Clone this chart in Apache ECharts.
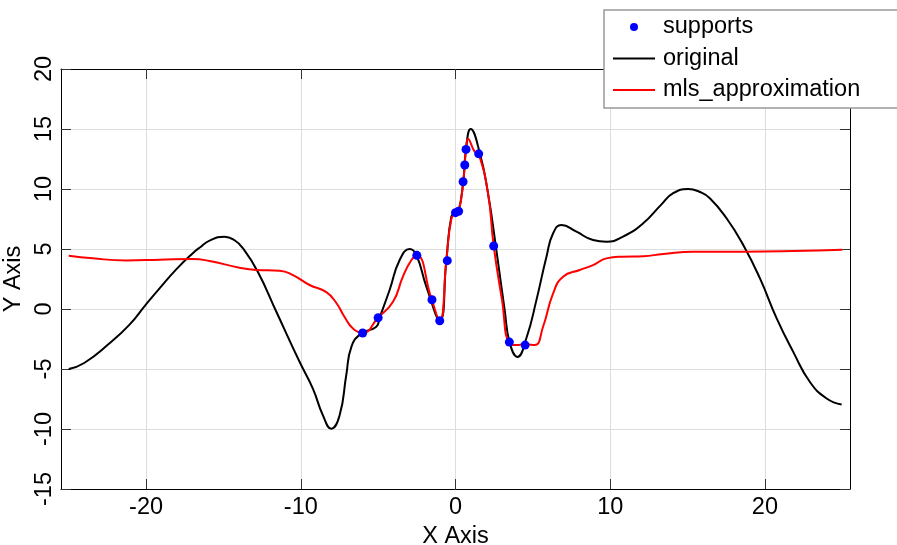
<!DOCTYPE html>
<html style="height: 100%">
<head>
  <meta charset="utf-8">
  <script src="https://cdn.jsdelivr.net/npm/echarts@6/dist/echarts.min.js"></script>
</head>
<body style="height: 100%; margin: 0; background: #fff">
<div id="chart" style="width: 897px; height: 545px"></div>
<script>
  // values
  var xTicks = [-20, -10, 0, 10, 20];
  var seriesNames = ['supports', 'original', 'mls_approximation'];

  var supports = [
    [-6, -2.0], [-5, -0.73], [-2.5, 4.47], [-1.52, 0.77], [-1.02, -0.98],
    [-0.53, 4.03], [0, 8.03], [0.2, 8.15], [0.49, 10.6], [0.6, 12.0],
    [0.68, 13.3], [1.5, 12.93], [2.47, 5.25], [3.48, -2.76], [4.5, -3.01]
  ];

  var original = [
    [-25, -5.0], [-24, -4.5], [-22.4, -2.9], [-21.07, -1.3], [-20.04, 0.33],
    [-19.13, 1.72], [-18.05, 3.3], [-16.98, 4.65], [-16.55, 5.1], [-15.9, 5.7],
    [-14.93, 6.03], [-14.3, 5.75], [-13.74, 5.06], [-12.78, 3.1], [-11.58, -0.23],
    [-10.08, -4.4], [-9.22, -6.63], [-8.57, -8.86], [-8.03, -9.97], [-7.49, -8.86],
    [-7.06, -5.5], [-6.73, -3.15], [-6.09, -2.04], [-5.12, -1.48], [-4.9, -0.7],
    [-4.26, 1.58], [-3.61, 4.08], [-2.96, 5.0], [-2.53, 4.5], [-1.88, 1.85],
    [-1.02, -0.93], [-0.59, 4.08], [-0.27, 7.7], [0, 8.0], [0.2, 8.15],
    [0.5, 10.6], [0.68, 13.3], [0.98, 15.0], [1.57, 13.0], [2.1, 9.65],
    [2.64, 4.92], [3.18, -0.09], [3.5, -2.8], [4.0, -3.99], [4.59, -2.4],
    [5.23, 0.74], [5.88, 4.36], [6.31, 6.31], [6.85, 7.0], [7.82, 6.44],
    [8.89, 5.75], [9.76, 5.61], [10.83, 6.03], [12.13, 7.14], [13.3, 8.7],
    [14.07, 9.65], [15.04, 10.0], [15.8, 9.75], [16.44, 9.23], [17.52, 7.56],
    [18.6, 5.33], [19.68, 2.55], [20.76, -0.78], [21.83, -3.57], [22.91, -6.08],
    [23.99, -7.46], [24.96, -7.96]
  ];

  var mls = [
    [-25, 4.44], [-23.45, 4.22], [-21.29, 4.05], [-19.13, 4.11], [-16.98, 4.17],
    [-15.9, 4.0], [-13.96, 3.44], [-12.88, 3.25], [-11.37, 3.19], [-10.51, 2.83],
    [-9.43, 2.0], [-8.35, 1.4], [-7.7, 0.5], [-7.2, -0.6], [-6.63, -1.62],
    [-6.0, -2.0], [-5.01, -0.73], [-4.04, 0.6], [-3.4, 2.69], [-2.85, 4.08],
    [-2.5, 4.47], [-1.56, 0.88], [-1.02, -0.98], [-0.59, 4.08], [-0.27, 7.5],
    [0, 8.03], [0.2, 8.15], [0.5, 10.6], [0.68, 13.3], [0.81, 14.16],
    [1.24, 13.12], [1.5, 12.93], [2.1, 9.65], [2.47, 5.25], [3.0, 0.8],
    [3.5, -2.9], [3.94, -3.01], [4.48, -2.93], [5.12, -3.01], [5.66, -1.48],
    [6.31, 1.3], [6.95, 2.69], [8.03, 3.25], [8.89, 3.66], [9.76, 4.22],
    [10.83, 4.36], [12.13, 4.4], [13.42, 4.58], [15.36, 4.78], [18.6, 4.78],
    [21.83, 4.83], [25, 4.94]
  ];

  var font = '"Liberation Sans", Arial, sans-serif';
  var fs = 23.5;
  var lineIcon = 'path://M0,0 H42 V2 H0 Z';
  var chart = echarts.init(document.getElementById('chart'), null, {renderer: 'canvas'});

  // mirrored ticks on the top and right edges
  function frameAxis(pos, isX) {
    var ax = {
      type: 'value',
      position: pos,
      min: isX ? -25.5 : -15,
      max: isX ? 25.5 : 20,
      axisLine: {show: true, onZero: false, lineStyle: {color: '#000', width: 1}},
      axisTick: {show: true, inside: true, length: 10, lineStyle: {color: '#333'}},
      axisLabel: {show: false},
      splitLine: {show: false}
    };
    if (isX) {
      ax.axisTick.customValues = xTicks;
    } else {
      ax.interval = 5;
    }
    return ax;
  }

  var option = {
    animation: false,
    backgroundColor: '#fff',
    textStyle: {fontFamily: font},
    grid: {left: 61, top: 69, right: 47, bottom: 56, containLabel: false, outerBoundsMode: 'none'},
    legend: {
      orient: 'vertical',
      left: 604,
      top: 10,
      padding: [5, 60, 6, 9],
      itemWidth: 42,
      itemHeight: 8,
      itemGap: 7.5,
      backgroundColor: '#fff',
      borderColor: '#999',
      borderWidth: 1.5,
      borderRadius: 0,
      textStyle: {fontFamily: font, fontSize: fs, color: '#000', padding: [0, 0, 0, 3]},
      data: [
        {name: seriesNames[0], icon: 'circle'},
        {name: seriesNames[1], icon: lineIcon},
        {name: seriesNames[2], icon: lineIcon}
      ]
    },
    xAxis: [{
      type: 'value',
      min: -25.5,
      max: 25.5,
      name: 'X Axis',
      nameLocation: 'middle',
      nameGap: 27,
      nameTextStyle: {fontFamily: font, fontSize: fs, color: '#000'},
      axisLine: {show: true, onZero: false, lineStyle: {color: '#000', width: 1}},
      axisTick: {show: true, inside: true, length: 10, customValues: xTicks, lineStyle: {color: '#333'}},
      axisLabel: {customValues: xTicks, margin: 7, fontFamily: font, fontSize: fs, color: '#000'},
      splitLine: {show: true, lineStyle: {color: '#dddddd', width: 1}}
    }, frameAxis('top', true)],
    yAxis: [{
      type: 'value',
      min: -15,
      max: 20,
      interval: 5,
      name: 'Y Axis',
      nameLocation: 'middle',
      nameGap: 22,
      nameTextStyle: {fontFamily: font, fontSize: fs, color: '#000'},
      axisLine: {show: true, onZero: false, lineStyle: {color: '#000', width: 1}},
      axisTick: {show: true, inside: true, length: 10, lineStyle: {color: '#333'}},
      axisLabel: {rotate: 90, margin: 4, fontFamily: font, fontSize: fs, color: '#000'},
      splitLine: {show: true, lineStyle: {color: '#dddddd', width: 1}}
    }, frameAxis('right', false)],
    series: [{
      name: seriesNames[0],
      type: 'scatter',
      data: supports,
      symbol: 'circle',
      symbolSize: 9,
      z: 5,
      itemStyle: {color: '#0000ff', opacity: 1}
    }, {
      name: seriesNames[1],
      type: 'line',
      data: original,
      smooth: 0.5,
      symbol: 'none',
      z: 2,
      lineStyle: {color: '#000', width: 2},
      itemStyle: {color: '#000'}
    }, {
      name: seriesNames[2],
      type: 'line',
      data: mls,
      smooth: 0.5,
      symbol: 'none',
      z: 3,
      lineStyle: {color: '#ff0000', width: 2},
      itemStyle: {color: '#ff0000'}
    }]
  };

  chart.setOption(option);
</script>
</body>
</html>
